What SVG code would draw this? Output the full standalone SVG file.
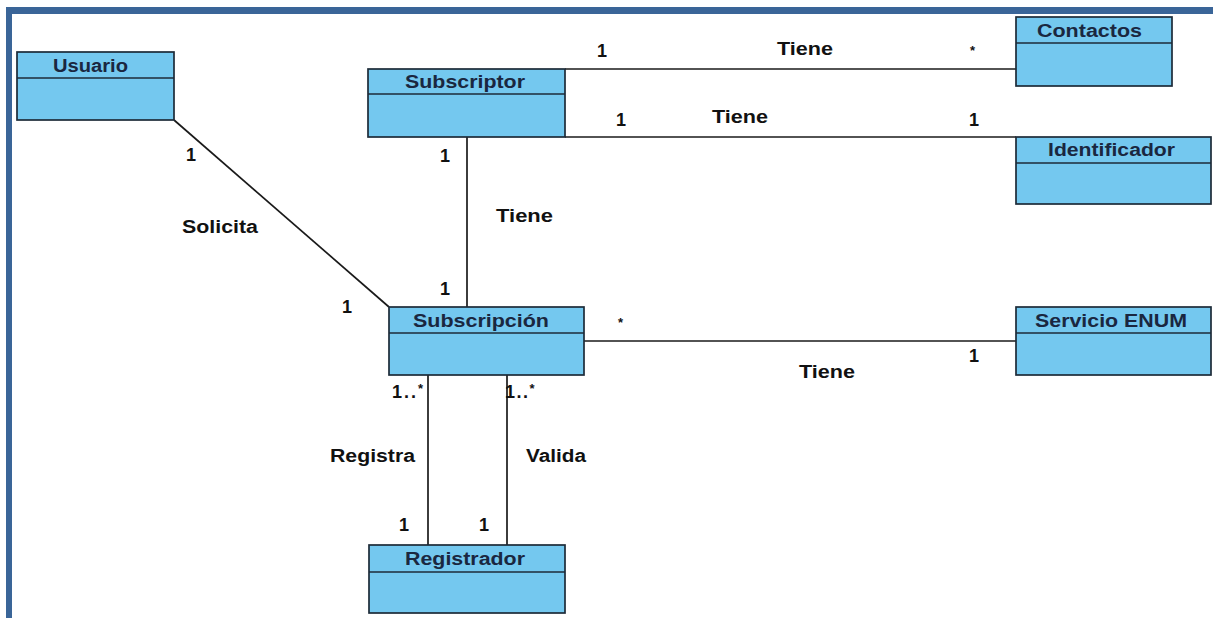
<svg xmlns="http://www.w3.org/2000/svg" width="1213" height="618" viewBox="0 0 1213 618">
  <style>
    .cls rect { fill: #74c8ef; stroke: #1d2b38; stroke-width: 1.7; }
    .cls line { stroke: #1d2b38; stroke-width: 1.7; }
    .cname { font-family: "Liberation Sans", Arial, sans-serif; font-weight: bold; font-size: 18px; fill: #1a2740; }
    .lbl { font-family: "Liberation Sans", Arial, sans-serif; font-weight: bold; font-size: 18px; fill: #111; }
    .conn line { stroke: #1a1a1a; stroke-width: 1.7; fill: none; }
  </style>

  <!-- page background and frame -->
  <rect x="0" y="0" width="1213" height="618" fill="#ffffff"/>
  <rect x="6" y="7" width="1207" height="7" fill="#3a6598"/>
  <rect x="6" y="7" width="6" height="611" fill="#3a6598"/>

  <!-- associations -->
  <g id="connectors" class="conn">
    <line x1="174" y1="120" x2="389" y2="307"/>
    <line x1="565" y1="69" x2="1016" y2="69"/>
    <line x1="565" y1="137" x2="1016" y2="137"/>
    <line x1="467" y1="137" x2="467" y2="307"/>
    <line x1="584" y1="341" x2="1016" y2="341"/>
    <line x1="428" y1="375" x2="428" y2="545"/>
    <line x1="507" y1="375" x2="507" y2="545"/>
  </g>

  <!-- multiplicities and role names -->
  <g id="labels" class="lbl">
    <text x="186" y="161">1</text>
    <text x="182" y="233" textLength="76" lengthAdjust="spacingAndGlyphs">Solicita</text>
    <text x="342" y="313">1</text>

    <text x="597" y="57">1</text>
    <text x="777" y="55" textLength="56" lengthAdjust="spacingAndGlyphs">Tiene</text>
    <text x="970" y="55" font-size="13">*</text>

    <text x="616" y="126">1</text>
    <text x="712" y="123" textLength="56" lengthAdjust="spacingAndGlyphs">Tiene</text>
    <text x="969" y="126">1</text>

    <text x="440" y="162">1</text>
    <text x="496" y="222" textLength="57" lengthAdjust="spacingAndGlyphs">Tiene</text>
    <text x="440" y="295">1</text>

    <text x="618" y="327" font-size="13">*</text>
    <text x="969" y="362">1</text>
    <text x="799" y="378" textLength="56" lengthAdjust="spacingAndGlyphs">Tiene</text>

    <text x="392" y="398" letter-spacing="2">1..<tspan font-size="13" dy="-5">*</tspan></text>
    <text x="505" y="398" letter-spacing="1.5">1..<tspan font-size="13" dy="-5">*</tspan></text>
    <text x="330" y="462" textLength="85" lengthAdjust="spacingAndGlyphs">Registra</text>
    <text x="526" y="462" textLength="60" lengthAdjust="spacingAndGlyphs">Valida</text>
    <text x="399" y="531">1</text>
    <text x="479" y="531">1</text>
  </g>

  <!-- classes -->
  <g id="usuario" class="cls">
    <rect x="17" y="52" width="157" height="68"/>
    <line x1="17" y1="78" x2="174" y2="78"/>
    <text class="cname" x="53" y="72" textLength="75" lengthAdjust="spacingAndGlyphs">Usuario</text>
  </g>

  <g id="subscriptor" class="cls">
    <rect x="368" y="69" width="197" height="68"/>
    <line x1="368" y1="94" x2="565" y2="94"/>
    <text class="cname" x="405" y="88" textLength="120" lengthAdjust="spacingAndGlyphs">Subscriptor</text>
  </g>

  <g id="contactos" class="cls">
    <rect x="1016" y="17" width="156" height="69"/>
    <line x1="1016" y1="43" x2="1172" y2="43"/>
    <text class="cname" x="1037" y="37" textLength="105" lengthAdjust="spacingAndGlyphs">Contactos</text>
  </g>

  <g id="identificador" class="cls">
    <rect x="1016" y="137" width="195" height="67"/>
    <line x1="1016" y1="163" x2="1211" y2="163"/>
    <text class="cname" x="1048" y="156" textLength="127" lengthAdjust="spacingAndGlyphs">Identificador</text>
  </g>

  <g id="subscripcion" class="cls">
    <rect x="389" y="307" width="195" height="68"/>
    <line x1="389" y1="333" x2="584" y2="333"/>
    <text class="cname" x="413" y="327" textLength="136" lengthAdjust="spacingAndGlyphs">Subscripción</text>
  </g>

  <g id="servicio-enum" class="cls">
    <rect x="1016" y="307" width="195" height="68"/>
    <line x1="1016" y1="333" x2="1211" y2="333"/>
    <text class="cname" x="1035" y="327" textLength="152" lengthAdjust="spacingAndGlyphs">Servicio ENUM</text>
  </g>

  <g id="registrador" class="cls">
    <rect x="369" y="545" width="196" height="68"/>
    <line x1="369" y1="572" x2="565" y2="572"/>
    <text class="cname" x="405" y="565" textLength="120" lengthAdjust="spacingAndGlyphs">Registrador</text>
  </g>
</svg>
